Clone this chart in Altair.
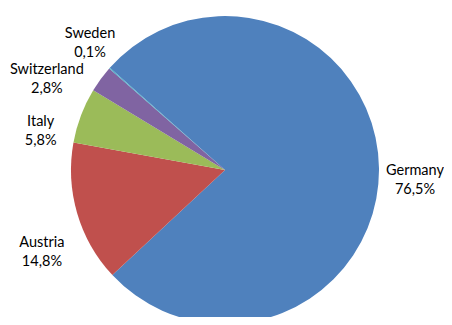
import altair as alt
import pandas as pd
import math

countries = ["Germany", "Austria", "Italy", "Switzerland", "Sweden"]
shares = [76.5, 14.8, 5.8, 2.8, 0.1]
labels = ["76,5%", "14,8%", "5,8%", "2,8%", "0,1%"]
colors = ["#4F81BD", "#C0504D", "#9BBB59", "#8064A2", "#4BACC6"]

# label layout nudges (pixels) applied after radial placement
nudge_x = [-6, 5, -1, -20, 12]
nudge_y = [3, 18, 21, 16, -6]

df = pd.DataFrame({
    "country": countries,
    "share": shares,
    "pct": labels,
    "order": list(range(len(countries))),
    "nx": nudge_x,
    "ny": nudge_y,
})
df["label"] = df["country"] + "\n" + df["pct"]

CX, CY, R, LR = 217, 162, 154, 196
start = math.radians(-48.4)
theta_scale = alt.Scale(range=[start, start + 2 * math.pi])

pie = alt.Chart(df).mark_arc(stroke=None).encode(
    theta=alt.Theta("share:Q", stack=True, scale=theta_scale),
    order=alt.Order("order:Q"),
    color=alt.Color("country:N", scale=alt.Scale(domain=countries, range=colors), legend=None),
    x=alt.value(CX),
    y=alt.value(CY),
    radius=alt.value(R),
)

text = alt.Chart(df).transform_window(
    cum="sum(share)", sort=[alt.SortField("order")], frame=[None, 0]
).transform_joinaggregate(
    total="sum(share)"
).transform_calculate(
    mid=f"(datum.cum - datum.share / 2) / datum.total * 2 * PI + ({start})"
).transform_calculate(
    lx=f"{CX} + {LR} * sin(datum.mid) + datum.nx",
    ly=f"{CY} - {LR} * cos(datum.mid) + datum.ny",
).mark_text(
    font="Lato", fontSize=14.5, lineBreak="\n", align="center", baseline="middle",
    color="#000000", lineHeight=19,
).encode(
    x=alt.X("lx:Q", scale=None),
    y=alt.Y("ly:Q", scale=None),
    text="label:N",
)

chart = (pie + text).properties(
    width=436, height=309, padding=0,
    autosize=alt.AutoSizeParams(type="none"),
).configure_view(stroke=None)

chart.save("out.html", embed_options={"renderer": "svg", "actions": False})
